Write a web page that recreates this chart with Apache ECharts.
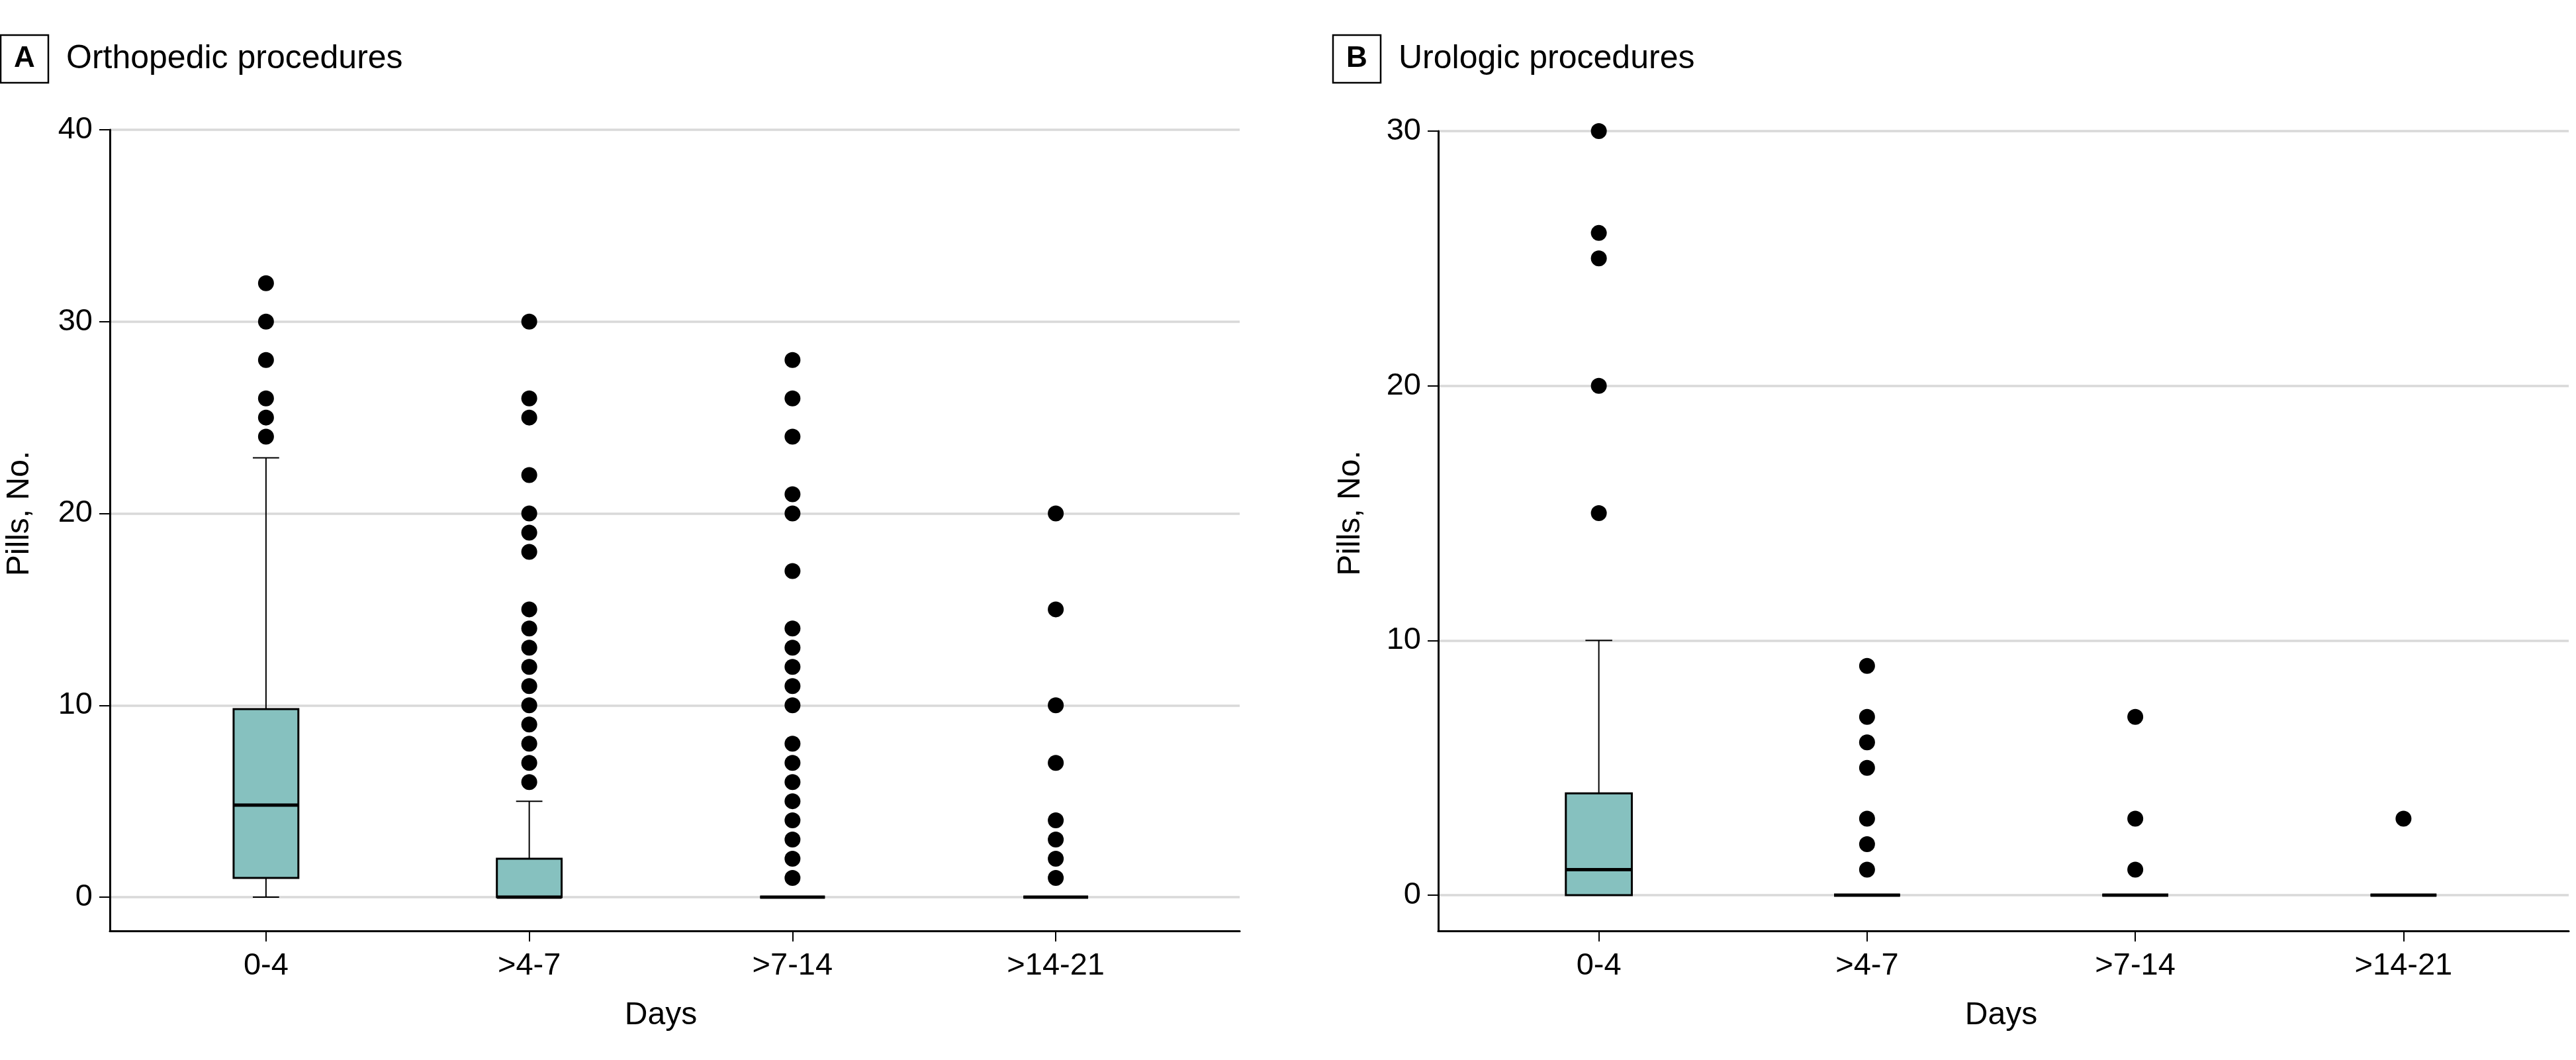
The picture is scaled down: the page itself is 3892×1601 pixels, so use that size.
<!DOCTYPE html>
<html>
<head>
<meta charset="utf-8">
<script src="https://cdn.jsdelivr.net/npm/echarts@6/dist/echarts.min.js"></script>
<style>
  html, body { margin: 0; padding: 0; background: #fff; }
  #chart { width: 3892px; height: 1601px; }
</style>
</head>
<body>
<div id="chart"></div>
<script>
const daysCategories = ['0-4', '>4-7', '>7-14', '>14-21'];

// [low whisker, Q1, median, Q3, high whisker]
const orthoBoxes = [
    [0, 1, 4.8, 9.8, 22.9],
    [0, 0, 0, 2, 5],
    [0, 0, 0, 0, 0],
    [0, 0, 0, 0, 0]
];
const orthoOutliers = [
    [32, 30, 28, 26, 25, 24],
    [30, 26, 25, 22, 20, 19, 18, 15, 14, 13, 12, 11, 10, 9, 8, 7, 6],
    [28, 26, 24, 21, 20, 17, 14, 13, 12, 11, 10, 8, 7, 6, 5, 4, 3, 2, 1],
    [20, 15, 10, 7, 4, 3, 2, 1]
];

const uroBoxes = [
    [0, 0, 1, 4, 10],
    [0, 0, 0, 0, 0],
    [0, 0, 0, 0, 0],
    [0, 0, 0, 0, 0]
];
const uroOutliers = [
    [30, 26, 25, 20, 15],
    [9, 7, 6, 5, 3, 2, 1],
    [7, 3, 1],
    [3]
];

const FONT = "'Liberation Sans', Arial, sans-serif";
const BOX_COLOR = '#86c1bf';

function boxData(boxes) {
    return boxes.map((b, i) => [i].concat(b));
}

function outlierData(outliers) {
    const result = [];
    outliers.forEach((vals, i) => {
        vals.forEach(v => result.push([i, v]));
    });
    return result;
}

function renderBox(params, api) {
    const x = api.value(0);
    const low = api.coord([x, api.value(1)]);
    const q1 = api.coord([x, api.value(2)]);
    const med = api.coord([x, api.value(3)]);
    const q3 = api.coord([x, api.value(4)]);
    const high = api.coord([x, api.value(5)]);
    const band = api.size([1, 0])[0];
    const half = band * 0.123;
    const cap = band * 0.05;
    const cx = low[0];
    const thin = { stroke: '#000', lineWidth: 2 };
    return {
        type: 'group',
        children: [
            { type: 'line', shape: { x1: cx, y1: high[1], x2: cx, y2: q3[1] }, style: thin },
            { type: 'line', shape: { x1: cx, y1: q1[1], x2: cx, y2: low[1] }, style: thin },
            { type: 'line', shape: { x1: cx - cap, y1: high[1], x2: cx + cap, y2: high[1] }, style: thin },
            { type: 'line', shape: { x1: cx - cap, y1: low[1], x2: cx + cap, y2: low[1] }, style: thin },
            {
                type: 'rect',
                shape: { x: cx - half, y: q3[1], width: half * 2, height: q1[1] - q3[1] },
                style: { fill: BOX_COLOR, stroke: '#000', lineWidth: 3 }
            },
            { type: 'line', shape: { x1: cx - half, y1: med[1], x2: cx + half, y2: med[1] }, style: { stroke: '#000', lineWidth: 5 } }
        ]
    };
}

const hiddenValue = (gridIndex) => ({ gridIndex: gridIndex, type: 'value', min: 0, max: 1, show: false });

function panel(opts) {
    const g = opts.gridBase;
    const wFull = opts.right - opts.axisX;
    const wCat = opts.catRight - opts.catLeft;
    const grids = [
        // frame: y labels, ticks and grid lines
        { left: opts.axisX, top: opts.top, width: wFull, height: opts.zeroY - opts.top },
        // boxes and dots
        { left: opts.catLeft, top: opts.top, width: wCat, height: opts.zeroY - opts.top },
        // axis lines
        { left: opts.axisX, top: opts.top, width: wFull, height: opts.lineY - opts.top },
        // category ticks and labels
        { left: opts.catLeft, top: opts.top, width: wCat, height: opts.lineY - opts.top }
    ];
    const xAxes = [
        hiddenValue(g),
        { gridIndex: g + 1, type: 'category', data: daysCategories, show: false },
        {
            gridIndex: g + 2, type: 'value', min: 0, max: 1,
            axisLine: { show: true, lineStyle: { color: '#000', width: 3 } },
            axisTick: { show: false }, axisLabel: { show: false }, splitLine: { show: false }
        },
        {
            gridIndex: g + 3,
            type: 'category',
            data: daysCategories,
            axisLine: { show: false },
            axisTick: { show: true, alignWithLabel: true, length: 16, lineStyle: { color: '#000', width: 2 } },
            axisLabel: { color: '#000', fontSize: 47, fontFamily: FONT, margin: 30 },
            splitLine: { show: false },
            name: 'Days',
            nameLocation: 'middle',
            nameGap: 104,
            nameTextStyle: { color: '#000', fontSize: 48, fontFamily: FONT }
        }
    ];
    const yAxes = [
        {
            gridIndex: g,
            type: 'value',
            min: 0,
            max: opts.yMax,
            interval: 10,
            axisLine: { show: false },
            axisTick: { show: true, length: 16, lineStyle: { color: '#000', width: 2 } },
            axisLabel: { color: '#000', fontSize: 47, fontFamily: FONT, margin: 26 },
            splitLine: { show: true, lineStyle: { color: '#d9d9d9', width: 3.5 } },
            name: 'Pills, No.',
            nameLocation: 'middle',
            nameGap: opts.nameGap,
            nameTextStyle: { color: '#000', fontSize: 48, fontFamily: FONT }
        },
        { gridIndex: g + 1, type: 'value', min: 0, max: opts.yMax, show: false },
        {
            gridIndex: g + 2, type: 'value', min: 0, max: 1,
            axisLine: { show: true, lineStyle: { color: '#000', width: 3 } },
            axisTick: { show: false }, axisLabel: { show: false }, splitLine: { show: false }
        },
        hiddenValue(g + 3)
    ];
    const series = [
        {
            type: 'custom',
            xAxisIndex: g + 1,
            yAxisIndex: g + 1,
            renderItem: renderBox,
            encode: { x: 0, y: [1, 2, 3, 4, 5] },
            data: boxData(opts.boxes),
            z: 3
        },
        {
            type: 'scatter',
            xAxisIndex: g + 1,
            yAxisIndex: g + 1,
            symbol: 'circle',
            symbolSize: 24,
            itemStyle: { color: '#000', opacity: 1 },
            data: outlierData(opts.outliers),
            z: 4
        }
    ];
    return { grids, xAxes, yAxes, series };
}

const pA = panel({
    gridBase: 0, axisX: 166, right: 1873, top: 196, zeroY: 1355, lineY: 1406,
    catLeft: 203, catRight: 1794, yMax: 40, nameGap: 112,
    boxes: orthoBoxes, outliers: orthoOutliers
});
const pB = panel({
    gridBase: 4, axisX: 2173, right: 3881, top: 198, zeroY: 1352, lineY: 1406,
    catLeft: 2213, catRight: 3834, yMax: 30, nameGap: 108,
    boxes: uroBoxes, outliers: uroOutliers
});

function titleFor(letter, text, left) {
    return {
        left: left,
        top: 53,
        padding: 0,
        text: '{box|' + letter + '}{name|' + text + '}',
        textStyle: {
            fontWeight: 'normal',
            rich: {
                box: {
                    fontFamily: FONT, fontSize: 44, fontWeight: 'bold', color: '#000',
                    borderColor: '#000', borderWidth: 2.5,
                    width: 72, height: 72, lineHeight: 72, align: 'center'
                },
                name: {
                    fontFamily: FONT, fontSize: 50, fontWeight: 'normal', color: '#000',
                    lineHeight: 72, padding: [0, 0, 0, 27]
                }
            }
        }
    };
}

const chart = echarts.init(document.getElementById('chart'));
chart.setOption({
    backgroundColor: '#fff',
    animation: false,
    title: [
        titleFor('A', 'Orthopedic procedures', 1),
        titleFor('B', 'Urologic procedures', 2014)
    ],
    grid: pA.grids.concat(pB.grids),
    xAxis: pA.xAxes.concat(pB.xAxes),
    yAxis: pA.yAxes.concat(pB.yAxes),
    series: pA.series.concat(pB.series)
});
</script>
</body>
</html>
